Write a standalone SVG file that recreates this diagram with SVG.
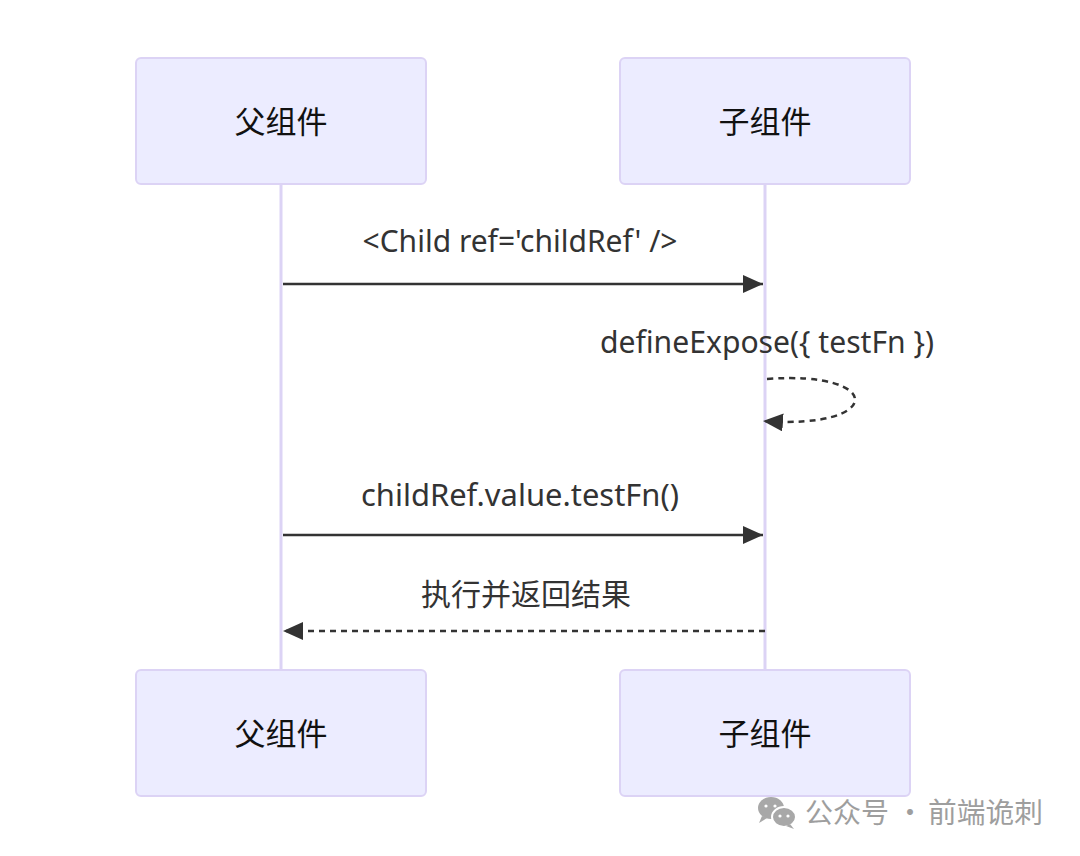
<svg xmlns="http://www.w3.org/2000/svg" width="1080" height="856" viewBox="0 0 1080 856">
<style>
.actor{fill:#ECECFF;stroke:#DCD3F5;stroke-width:2}
.life{stroke:#DCD3F5;stroke-width:3}
.atext{font-family:"Noto Sans","Noto Sans CJK SC",sans-serif;font-size:31px;fill:#111;text-anchor:middle;dominant-baseline:central}
.mtext{font-family:"Noto Sans","Noto Sans CJK SC",sans-serif;font-size:30px;fill:#333;text-anchor:middle}
.msg{stroke:#333;stroke-width:2.5;fill:none}
.dash{stroke-dasharray:6,5}
.wm{font-family:"Noto Sans CJK SC",sans-serif;font-size:28px;fill:#9e9e9e}
</style>
<defs>
<marker id="arrowL" viewBox="0 0 20 18" refX="20" refY="9" markerWidth="20" markerHeight="18" markerUnits="userSpaceOnUse" orient="auto">
<path d="M0,0 L20,9 L0,18 z" fill="#333"/>
</marker>
</defs>
<rect width="1080" height="856" fill="#fff"/>
<g id="lifelines">
<line class="life" x1="281" y1="184" x2="281" y2="670"/>
<line class="life" x1="765" y1="184" x2="765" y2="670"/>
</g>
<g id="parent-top"><rect class="actor" x="136" y="58" width="290" height="126" rx="5"/><text class="atext" x="281" y="121">父组件</text></g>
<g id="child-top"><rect class="actor" x="620" y="58" width="290" height="126" rx="5"/><text class="atext" x="765" y="121">子组件</text></g>
<g id="parent-bottom"><rect class="actor" x="136" y="670" width="290" height="126" rx="5"/><text class="atext" x="281" y="733">父组件</text></g>
<g id="child-bottom"><rect class="actor" x="620" y="670" width="290" height="126" rx="5"/><text class="atext" x="765" y="733">子组件</text></g>
<g id="connectors">
<line class="msg" x1="283" y1="284" x2="763" y2="284" marker-end="url(#arrowL)"/>
<text class="mtext" x="520" y="252" textLength="315" lengthAdjust="spacingAndGlyphs">&lt;Child ref='childRef' /&gt;</text>
<text class="mtext" x="767" y="353" textLength="334" lengthAdjust="spacingAndGlyphs">defineExpose({ testFn })</text>
<path class="msg dash" d="M767,379 C885,370 885,430 763,421" marker-end="url(#arrowL)"/>
<line class="msg" x1="283" y1="535" x2="763" y2="535" marker-end="url(#arrowL)"/>
<text class="mtext" x="520" y="506" textLength="318" lengthAdjust="spacingAndGlyphs">childRef.value.testFn()</text>
<line class="msg dash" x1="765" y1="631" x2="283" y2="631" marker-end="url(#arrowL)"/>
<text class="mtext" x="526" y="605">执行并返回结果</text>
</g>
<g id="watermark">
<ellipse cx="771" cy="808" rx="13" ry="11" fill="#a8a8a8"/>
<path d="M762,816 L759,823 L767,818 z" fill="#a8a8a8"/>
<ellipse cx="784" cy="817" rx="12" ry="10" fill="#a8a8a8" stroke="#fff" stroke-width="2"/>
<path d="M790,824 L794,829 L786,826 z" fill="#a8a8a8"/>
<circle cx="780" cy="816" r="1.6" fill="#fff"/><circle cx="788" cy="816" r="1.6" fill="#fff"/>
<circle cx="766" cy="806" r="1.6" fill="#fff"/><circle cx="775" cy="806" r="1.6" fill="#fff"/>
<text class="wm" x="805" y="823">公众号</text>
<text class="wm" x="896" y="823">·</text>
<text class="wm" x="928" y="823" textLength="115" lengthAdjust="spacingAndGlyphs">前端诡刺</text>
</g>
</svg>
